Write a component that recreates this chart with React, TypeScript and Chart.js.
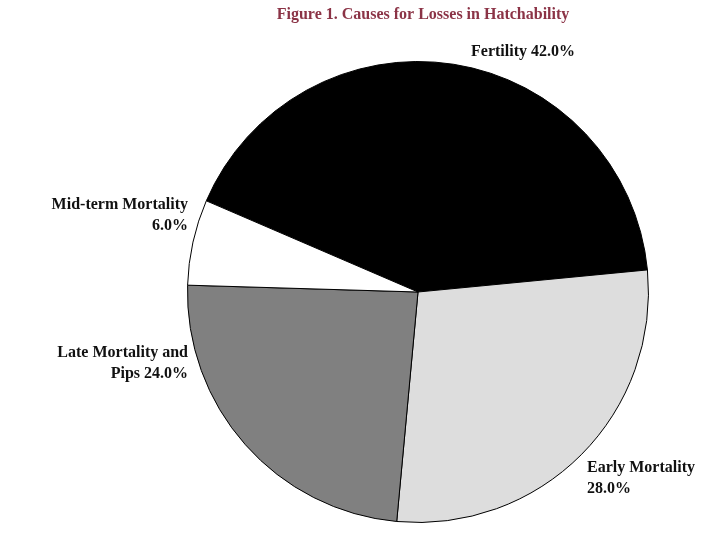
import React, { useEffect, useRef } from "react";
import { Chart, registerables } from "chart.js";

Chart.register(...registerables);

const categories = ["Fertility", "Early Mortality", "Late Mortality and Pips", "Mid-term Mortality"];
const values = [42.0, 28.0, 24.0, 6.0];
const sliceColors = ["#000000", "#DDDDDD", "#808080", "#FFFFFF"];
const labelLines = [
  ["Fertility 42.0%"],
  ["Early Mortality", "28.0%"],
  ["Late Mortality and", "Pips 24.0%"],
  ["Mid-term Mortality", "6.0%"],
];
const titleText = "Figure 1. Causes for Losses in Hatchability";

const labelPlugin = {
  id: "customLabels",
  afterDraw(chart: any) {
    const ctx = chart.ctx;
    ctx.save();
    ctx.fillStyle = "#8B3346";
    ctx.font = "bold 16px 'Liberation Serif', 'Times New Roman', serif";
    ctx.textAlign = "center";
    ctx.textBaseline = "alphabetic";
    ctx.fillText(titleText, 423, 19);

    const meta = chart.getDatasetMeta(0);
    ctx.fillStyle = "#111111";
    ctx.font = "bold 16px 'Liberation Serif', 'Times New Roman', serif";
    const lineH = 21;
    meta.data.forEach((arc: any, i: number) => {
      const lines = labelLines[i];
      let align: CanvasTextAlign = "left";
      let px = 0;
      let py = 0;
      if (i === 0) {
        px = 471;
        py = 56;
      } else if (i === 1) {
        px = 587;
        py = 472;
      } else if (i === 2) {
        align = "right";
        px = 188;
        py = 357;
      } else {
        align = "right";
        px = 188;
        py = 209;
      }
      ctx.textAlign = align;
      lines.forEach((t, k) => ctx.fillText(t, px, py + k * lineH));
    });
    ctx.restore();
  },
};

export default function App() {
  const ref = useRef<HTMLCanvasElement>(null);
  useEffect(() => {
    document.body.style.margin = "0";
    const chart = new Chart(ref.current!, {
      type: "pie",
      data: {
        labels: categories,
        datasets: [
          {
            data: values,
            backgroundColor: sliceColors,
            borderColor: "#000000",
            borderWidth: 1,
          },
        ],
      },
      options: {
        animation: false,
        responsive: false,
        rotation: -66.7,
        layout: { padding: { left: 187, right: 70, top: 61, bottom: 12 } },
        plugins: {
          legend: { display: false },
          tooltip: { enabled: false },
          title: { display: false },
        },
      },
      plugins: [labelPlugin],
    });
    return () => chart.destroy();
  }, []);
  return (
    <div style={{ position: "absolute", left: 0, top: 0, width: 719, height: 535, background: "#fff" }}>
      <canvas ref={ref} width={719} height={535} />
    </div>
  );
}
